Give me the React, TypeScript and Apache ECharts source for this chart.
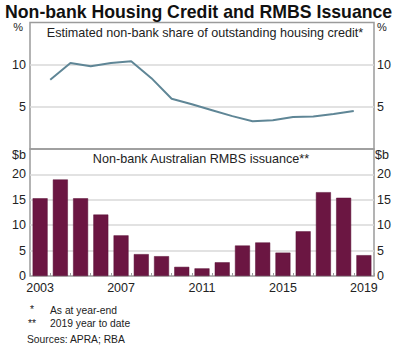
import React, { useEffect, useRef } from 'react';
import * as echarts from 'echarts';

// Bottom panel: non-bank Australian RMBS issuance ($b), calendar years
const years = ['2003', '2004', '2005', '2006', '2007', '2008', '2009', '2010', '2011', '2012', '2013', '2014', '2015', '2016', '2017', '2018', '2019'];
const rmbsIssuance = [15.3, 19.0, 15.3, 12.1, 8.0, 4.3, 3.9, 1.8, 1.5, 2.7, 6.0, 6.6, 4.6, 8.8, 16.5, 15.4, 4.1];

// Top panel: estimated non-bank share of outstanding housing credit (%), as at year-end
const shareYears = [2003, 2004, 2005, 2006, 2007, 2008, 2009, 2010, 2011, 2012, 2013, 2014, 2015, 2016, 2017, 2018];
const nonBankShare = [8.2, 10.2, 9.8, 10.2, 10.4, 8.4, 5.95, 5.3, 4.6, 3.9, 3.3, 3.4, 3.8, 3.85, 4.15, 4.5];

// Tick labels
const shareTickLabels = [5, 10];
const issuanceTickLabels = [0, 5, 10, 15, 20];
const xLabelYears = ['2003', '2007', '2011', '2015', '2019'];

const FONT = '"Liberation Sans", Arial, Helvetica, sans-serif';
const TEXT = '#222222';
const FRAME = '#9b9b9b';
const GRID = '#d9d9d9';

function txt(text: string, x: number, y: number, size: number, align: string, extra: any = {}) {
  return {
    type: 'text',
    x,
    y,
    silent: true,
    style: {
      text,
      x: 0,
      y: 0,
      fill: extra.fill || TEXT,
      fontSize: size,
      fontFamily: FONT,
      fontWeight: extra.fontWeight || 'normal',
      textAlign: align,
      align,
      textVerticalAlign: 'middle',
      verticalAlign: 'middle',
    },
  };
}

export default function App() {
  const ref = useRef<HTMLDivElement>(null);

  useEffect(() => {
    if (!ref.current) return;
    const chart = echarts.init(ref.current, undefined, { renderer: 'svg' });

    const yLabel = (allowed: number[]) => ({
      color: TEXT,
      fontSize: 12.5,
      fontFamily: FONT,
      formatter: (v: number) => (allowed.indexOf(v) >= 0 ? String(v) : ''),
    });

    const option: any = {
      animation: false,
      backgroundColor: '#ffffff',
      grid: [
        { left: 30, top: 22.5, width: 344, height: 126.5, show: true, borderColor: FRAME, borderWidth: 1.5, backgroundColor: 'transparent' },
        { left: 30, top: 149, width: 344, height: 127, show: true, borderColor: FRAME, borderWidth: 1.5, backgroundColor: 'transparent' },
      ],
      xAxis: [
        { gridIndex: 0, type: 'value', min: 2003, max: 2020, show: false },
        {
          gridIndex: 1,
          type: 'category',
          data: years,
          boundaryGap: true,
          axisLine: { show: false },
          axisTick: { show: true, inside: true, length: 3, interval: 0, lineStyle: { color: FRAME, width: 1 } },
          axisLabel: {
            interval: 0,
            color: TEXT,
            fontSize: 12.5,
            fontFamily: FONT,
            margin: 5,
            formatter: (v: string) => (xLabelYears.indexOf(v) >= 0 ? v : ''),
          },
        },
      ],
      yAxis: [
        {
          gridIndex: 0, type: 'value', position: 'left', min: 0, max: 15, interval: 5,
          axisLine: { show: false }, axisTick: { show: false },
          axisLabel: { ...yLabel(shareTickLabels), margin: 4 },
          splitLine: { show: true, showMinLine: false, showMaxLine: false, lineStyle: { color: GRID, width: 1.5 } },
        },
        {
          gridIndex: 0, type: 'value', position: 'right', min: 0, max: 15, interval: 5,
          axisLine: { show: false }, axisTick: { show: false },
          axisLabel: { ...yLabel(shareTickLabels), margin: 3 },
          splitLine: { show: false },
        },
        {
          gridIndex: 1, type: 'value', position: 'left', min: 0, max: 25, interval: 5,
          axisLine: { show: false }, axisTick: { show: false },
          axisLabel: { ...yLabel(issuanceTickLabels), margin: 4 },
          splitLine: { show: true, showMinLine: false, showMaxLine: false, lineStyle: { color: GRID, width: 1.5 } },
        },
        {
          gridIndex: 1, type: 'value', position: 'right', min: 0, max: 25, interval: 5,
          axisLine: { show: false }, axisTick: { show: false },
          axisLabel: { ...yLabel(issuanceTickLabels), margin: 3 },
          splitLine: { show: false },
        },
      ],
      series: [
        {
          type: 'line',
          xAxisIndex: 0,
          yAxisIndex: 0,
          data: shareYears.map((y, i) => [y + 1, nonBankShare[i]]),
          symbol: 'none',
          lineStyle: { color: '#5f8696', width: 2 },
          z: 5,
        },
        {
          type: 'bar',
          xAxisIndex: 1,
          yAxisIndex: 2,
          data: rmbsIssuance,
          barCategoryGap: '26%',
          itemStyle: { color: '#6b1642', borderColor: '#5a1036', borderWidth: 0.5 },
        },
      ],
      graphic: [
        txt('Non-bank Housing Credit and RMBS Issuance', 5, 12, 17.7, 'left', { fontWeight: 'bold', fill: '#111111' }),
        txt('Estimated non-bank share of outstanding housing credit*', 205, 33, 12.6, 'center'),
        txt('Non-bank Australian RMBS issuance**', 201, 159, 12.6, 'center'),
        txt('%', 23, 27, 11, 'right'),
        txt('%', 377, 27, 11, 'left'),
        txt('$b', 26, 155, 12.5, 'right'),
        txt('$b', 375, 155, 12.5, 'left'),
        txt('*', 30, 309, 10.3, 'left'),
        txt('As at year-end', 50, 310, 10.3, 'left'),
        txt('**', 28, 323, 10.3, 'left'),
        txt('2019 year to date', 50, 323, 10.3, 'left'),
        txt('Sources: APRA; RBA', 27, 339, 10.3, 'left'),
      ],
    };

    chart.setOption(option);
    return () => chart.dispose();
  }, []);

  return (
    <div
      ref={ref}
      style={{ position: 'fixed', left: 0, top: 0, width: 400, height: 355, background: '#fff' }}
    />
  );
}
